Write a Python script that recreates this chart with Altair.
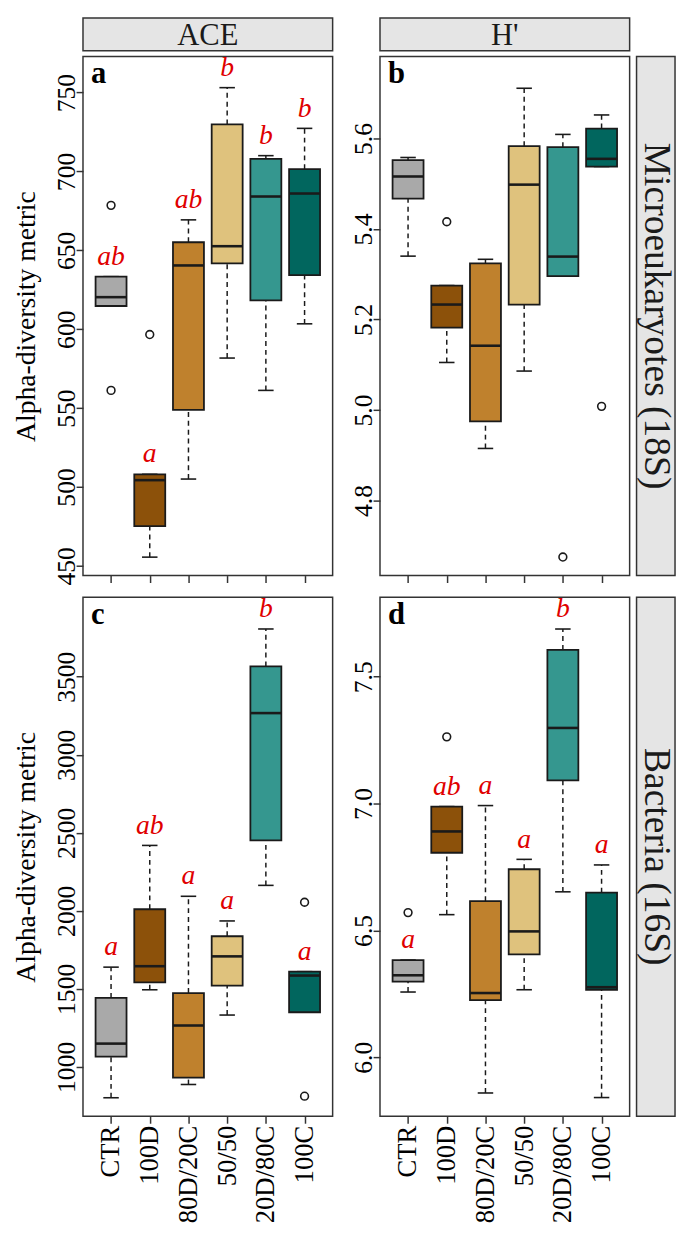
import json
import altair as alt
import pandas as pd

# ---------------- data ----------------
GROUPS = ["CTR", "100D", "80D/20C", "50/50", "20D/80C", "100C"]
COLORS = ["#A9A9A9", "#8C510A", "#BF812D", "#DFC27D", "#35978F", "#01665E"]

# a: ACE, Microeukaryotes (18S)
A_LO = [614.7, 455.5, 505.0, 581.7, 561.2, 603.4]
A_Q1 = [614.7, 475.1, 548.8, 641.7, 618.2, 634.2]
A_MED = [620.3, 504.3, 640.4, 652.6, 684.1, 686.0]
A_Q3 = [633.3, 508.0, 655.1, 729.8, 708.0, 701.4]
A_HI = [633.3, 508.0, 669.3, 753.1, 710.0, 727.3]
A_OUT_G = ["CTR", "CTR", "100D"]
A_OUT_V = [678.5, 561.2, 596.6]
A_LET = ["ab", "a", "ab", "b", "b", "b"]

# b: H', Microeukaryotes (18S)
B_LO = [5.340, 5.105, 4.915, 5.086, 5.296, 5.538]
B_Q1 = [5.467, 5.182, 4.975, 5.233, 5.296, 5.538]
B_MED = [5.516, 5.233, 5.142, 5.498, 5.339, 5.555]
B_Q3 = [5.552, 5.275, 5.324, 5.583, 5.581, 5.622]
B_HI = [5.558, 5.275, 5.333, 5.711, 5.609, 5.652]
B_OUT_G = ["100D", "20D/80C", "100C"]
B_OUT_V = [5.416, 4.675, 5.008]
B_LET = ["", "", "", "", "", ""]

# c: ACE, Bacteria (16S)
C_LO = [802, 1494, 887, 1332, 2163, 1350]
C_Q1 = [1065, 1542, 931, 1521, 2452, 1350]
C_MED = [1149, 1645, 1265, 1708, 3267, 1585]
C_Q3 = [1442, 2010, 1473, 1837, 3566, 1610]
C_HI = [1639, 2419, 2093, 1935, 3806, 1610]
C_OUT_G = ["100C", "100C"]
C_OUT_V = [2055, 812]
C_LET = ["a", "ab", "a", "a", "b", "a"]

# d: H', Bacteria (16S)
D_LO = [6.257, 6.562, 5.859, 6.266, 6.652, 5.841]
D_Q1 = [6.298, 6.806, 6.225, 6.405, 7.091, 6.266]
D_MED = [6.323, 6.890, 6.253, 6.496, 7.298, 6.276]
D_Q3 = [6.383, 6.988, 6.615, 6.741, 7.606, 6.649]
D_HI = [6.383, 6.988, 6.992, 6.780, 7.688, 6.758]
D_OUT_G = ["CTR", "100D"]
D_OUT_V = [6.570, 7.263]
D_LET = ["a", "ab", "a", "a", "b", "a"]

COL_STRIPS = ["ACE", "H'"]
ROW_STRIPS = ["Microeukaryotes (18S)", "Bacteria (16S)"]
Y_TITLE = "Alpha-diversity metric"

# ---------------- styling ----------------
FONT = "Liberation Serif"
W, H = 253, 526
INK = "#1a1a1a"
LABEL_EXPR = json.dumps(GROUPS) + "[datum.value - 1]"


def panel(lo, q1, med, q3, hi, out_g, out_v, letters, ydom, yticks, yfmt,
          ytitle, xlabels, tag, top=None, right=None):
    idx = list(range(1, len(GROUPS) + 1))
    df = pd.DataFrame({"g": GROUPS, "i": idx, "lo": lo, "q1": q1, "med": med,
                       "q3": q3, "hi": hi, "c": COLORS, "let": letters})
    df["xl"] = df["i"] - 0.4
    df["xr"] = df["i"] + 0.4
    df["cl"] = df["i"] - 0.2
    df["cr"] = df["i"] + 0.2

    xs = alt.Scale(domain=[0.275, 6.725], nice=False, zero=False)
    ys = alt.Scale(domain=ydom, nice=False, zero=False)
    xax = alt.Axis(values=idx, labelExpr=LABEL_EXPR, labels=xlabels, title=None)
    yax = alt.Axis(values=yticks, format=yfmt, title=ytitle)

    def X(f):
        return alt.X(f"{f}:Q", scale=xs, axis=xax)

    def Y(f):
        return alt.Y(f"{f}:Q", scale=ys, axis=yax)

    base = alt.Chart(df)
    layers = [
        base.mark_rule(color=INK, strokeWidth=1.5, strokeDash=[5, 4]).encode(
            x=X("i"), y=Y("lo"), y2="q1"),
        base.mark_rule(color=INK, strokeWidth=1.5, strokeDash=[5, 4]).encode(
            x=X("i"), y=Y("q3"), y2="hi"),
        base.mark_rule(color=INK, strokeWidth=1.6).encode(x=X("cl"), x2="cr", y=Y("lo")),
        base.mark_rule(color=INK, strokeWidth=1.6).encode(x=X("cl"), x2="cr", y=Y("hi")),
        base.mark_rect(stroke=INK, strokeWidth=1.8).encode(
            x=X("xl"), x2="xr", y=Y("q1"), y2="q3",
            fill=alt.Fill("c:N", scale=None)),
        base.mark_rule(color=INK, strokeWidth=2.6).encode(x=X("xl"), x2="xr", y=Y("med")),
    ]
    odf = pd.DataFrame({"g": out_g, "v": out_v})
    odf["i"] = [GROUPS.index(g) + 1 for g in out_g]
    layers.append(alt.Chart(odf).mark_point(shape="circle", filled=False, size=62,
                                            color=INK, strokeWidth=1.6, opacity=1).encode(
        x=X("i"), y=Y("v")))
    if any(letters):
        layers.append(base.mark_text(dy=-12, baseline="alphabetic", fontStyle="italic",
                                     fontSize=28, color="#E00000", font=FONT).encode(
            x=X("i"), y=Y("hi"), text="let:N"))
    layers.append(alt.Chart(pd.DataFrame({"t": [tag]})).mark_text(
        align="left", baseline="alphabetic", fontWeight="bold", fontSize=31,
        font=FONT, color="black").encode(x=alt.value(8), y=alt.value(27), text="t:N"))
    if top is not None:
        sdf = pd.DataFrame({"t": [top]})
        layers.append(alt.Chart(sdf).mark_rect(fill="#E5E5E5", stroke="#333333",
                                               strokeWidth=1.5).encode(
            x=alt.value(0), x2=alt.value(W), y=alt.value(-39), y2=alt.value(-6)))
        layers.append(alt.Chart(sdf).mark_text(fontSize=31, font=FONT, color="#1a1a1a",
                                               baseline="middle").encode(
            x=alt.value(W / 2), y=alt.value(-21), text="t:N"))
    if right is not None:
        rdf = pd.DataFrame({"t": [right]})
        layers.append(alt.Chart(rdf).mark_rect(fill="#E5E5E5", stroke="#333333",
                                               strokeWidth=1.5).encode(
            x=alt.value(W + 7), x2=alt.value(W + 46), y=alt.value(0), y2=alt.value(H)))
        layers.append(alt.Chart(rdf).mark_text(fontSize=38, font=FONT, color="#1a1a1a",
                                               angle=90, baseline="middle").encode(
            x=alt.value(W + 26.5), y=alt.value(H / 2), text="t:N"))
    return alt.layer(*layers).properties(width=W, height=H)


pa = panel(A_LO, A_Q1, A_MED, A_Q3, A_HI, A_OUT_G, A_OUT_V, A_LET,
           [443.8, 772.8], [450, 500, 550, 600, 650, 700, 750], "d",
           Y_TITLE, False, "a", top=COL_STRIPS[0])
pb = panel(B_LO, B_Q1, B_MED, B_Q3, B_HI, B_OUT_G, B_OUT_V, B_LET,
           [4.634, 5.781], [4.8, 5.0, 5.2, 5.4, 5.6], ".1f",
           None, False, "b", top=COL_STRIPS[1], right=ROW_STRIPS[0])
pc = panel(C_LO, C_Q1, C_MED, C_Q3, C_HI, C_OUT_G, C_OUT_V, C_LET,
           [683, 4009], [1000, 1500, 2000, 2500, 3000, 3500], "d",
           Y_TITLE, True, "c")
pd_ = panel(D_LO, D_Q1, D_MED, D_Q3, D_HI, D_OUT_G, D_OUT_V, D_LET,
            [5.767, 7.813], [6.0, 6.5, 7.0, 7.5], ".1f",
            None, True, "d", right=ROW_STRIPS[1])

chart = alt.concat(pa, pb, pc, pd_, columns=2,
                   spacing={"row": 22, "column": 48}, bounds="flush").properties(
    padding={"left": 4, "top": 0, "right": 0, "bottom": 0}
).configure(font=FONT).configure_view(
    stroke="#333333", strokeWidth=1.5
).configure_axis(
    labelFont=FONT, titleFont=FONT, labelColor="#000000", titleColor="#000000",
    tickColor="#333333", tickWidth=1.5, tickSize=7, domain=False, grid=False,
    titleFontWeight="normal", labelPadding=2
).configure_axisX(
    labelFontSize=27, labelAngle=270, labelAlign="right", labelBaseline="middle"
).configure_axisY(
    labelFontSize=26, labelAngle=270, labelAlign="center", labelBaseline="alphabetic",
    titleFontSize=28, titlePadding=13
)

chart.save("out.html", embed_options={"renderer": "svg", "actions": False})
